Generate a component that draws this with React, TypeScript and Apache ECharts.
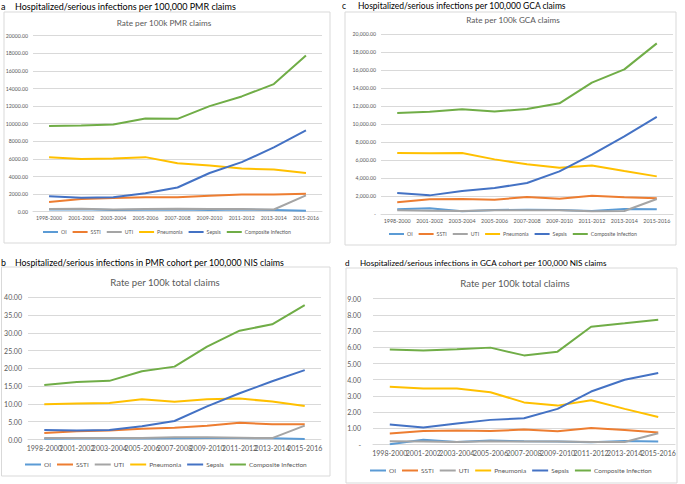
import React, { useEffect, useRef } from "react";
import * as echarts from "echarts";

const categories = ["1998-2000", "2001-2002", "2003-2004", "2005-2006", "2007-2008", "2009-2010", "2011-2012", "2013-2014", "2015-2016"];
const seriesNames = ["OI", "SSTI", "UTI", "Pneumonia", "Sepsis", "Composite Infection"];
const seriesColors = ["#5B9BD5", "#ED7D31", "#A5A5A5", "#FFC000", "#4472C4", "#70AD47"];

// a: per 100,000 PMR claims
const aOI = [250, 280, 200, 230, 250, 200, 250, 180, 100];
const aSSTI = [1100, 1450, 1550, 1650, 1650, 1800, 1950, 1950, 2050];
const aUTI = [300, 330, 260, 300, 330, 300, 300, 250, 1850];
const aPneumonia = [6200, 6000, 6050, 6200, 5500, 5250, 4900, 4800, 4400];
const aSepsis = [1750, 1580, 1650, 2100, 2750, 4400, 5630, 7300, 9240];
const aComposite = [9750, 9800, 9900, 10600, 10550, 12000, 13100, 14500, 17750];

// b: PMR cohort per 100,000 NIS claims
const bOI = [0.2, 0.3, 0.3, 0.3, 0.35, 0.45, 0.4, 0.35, 0.15];
const bSSTI = [1.8, 2.3, 2.5, 3.0, 3.3, 3.9, 4.7, 4.3, 4.3];
const bUTI = [0.4, 0.45, 0.4, 0.45, 0.6, 0.6, 0.5, 0.4, 3.9];
const bPneumonia = [9.9, 10.1, 10.3, 11.3, 10.6, 11.3, 11.5, 10.7, 9.4];
const bSepsis = [2.7, 2.5, 2.7, 3.7, 5.2, 9.3, 13.0, 16.4, 19.5];
const bComposite = [15.3, 16.2, 16.5, 19.2, 20.5, 26.1, 30.6, 32.4, 37.8];

// c: per 100,000 GCA claims
const cOI = [520, 630, 300, 440, 480, 440, 330, 550, 520];
const cSSTI = [1300, 1630, 1670, 1590, 1890, 1700, 2040, 1850, 1740];
const cUTI = [410, 370, 330, 410, 410, 410, 300, 330, 1670];
const cPneumonia = [6780, 6740, 6780, 6070, 5520, 5150, 5400, 4780, 4180];
const cSepsis = [2330, 2070, 2550, 2890, 3440, 4740, 6590, 8630, 10780];
const cComposite = [11220, 11370, 11630, 11400, 11670, 12300, 14600, 16070, 18960];

// d: GCA cohort per 100,000 NIS claims
const dOI = [0.02, 0.3, 0.16, 0.24, 0.2, 0.18, 0.14, 0.22, 0.18];
const dSSTI = [0.68, 0.84, 0.86, 0.84, 0.92, 0.82, 1.02, 0.9, 0.74];
const dUTI = [0.2, 0.18, 0.16, 0.2, 0.18, 0.18, 0.16, 0.16, 0.7];
const dPneumonia = [3.56, 3.46, 3.46, 3.23, 2.6, 2.4, 2.73, 2.2, 1.7];
const dSepsis = [1.23, 1.05, 1.3, 1.52, 1.62, 2.2, 3.27, 4.0, 4.42];
const dComposite = [5.86, 5.8, 5.88, 5.98, 5.5, 5.73, 7.27, 7.48, 7.7];

const panelHeadings = [
  "Hospitalized/serious infections per 100,000 PMR claims",
  "Hospitalized/serious infections in PMR cohort per 100,000 NIS claims",
  "Hospitalized/serious infections per 100,000 GCA claims",
  "Hospitalized/serious infections in GCA cohort per 100,000 NIS claims",
];
const chartTitles = ["Rate per 100k PMR claims", "Rate per 100k total claims", "Rate per 100k GCA claims", "Rate per 100k total claims"];

const FONT = "Lato, 'Open Sans', sans-serif";
const GRAY = "#595959";

export default function App() {
  const ref = useRef<HTMLDivElement>(null);
  useEffect(() => {
    if (!ref.current) return;
    const chart = echarts.init(ref.current, null, { renderer: "svg" });

    const panels = [
      { data: [aOI, aSSTI, aUTI, aPneumonia, aSepsis, aComposite], grid: { left: 33, top: 35.7, width: 289, height: 176 }, max: 20000, interval: 2000, fmt: (v: number) => v.toFixed(2), tick: 5.2, xf: 5.2, ym: 5, xm: 4 },
      { data: [bOI, bSSTI, bUTI, bPneumonia, bSepsis, bComposite], grid: { left: 28, top: 297.3, width: 293, height: 142.2 }, max: 40, interval: 5, fmt: (v: number) => v.toFixed(2), tick: 7, xf: 7, ym: 6, xm: 5 },
      { data: [cOI, cSSTI, cUTI, cPneumonia, cSepsis, cComposite], grid: { left: 381, top: 34, width: 292, height: 180 }, max: 20000, interval: 2000, fmt: (v: number) => (v === 0 ? "-" : v.toLocaleString("en-US", { minimumFractionDigits: 2, maximumFractionDigits: 2 })), tick: 5.2, xf: 5.4, ym: 5, xm: 4 },
      { data: [dOI, dSSTI, dUTI, dPneumonia, dSepsis, dComposite], grid: { left: 373, top: 298.7, width: 302, height: 145.8 }, max: 9, interval: 1, fmt: (v: number) => (v === 0 ? "-" : v.toFixed(2)), tick: 7, xf: 7, ym: 12, xm: 5 },
    ];

    const grid = panels.map((p) => ({ ...p.grid, containLabel: false }));
    const xAxis = panels.map((p, i) => ({
      type: "category",
      gridIndex: i,
      data: categories,
      boundaryGap: true,
      axisLine: { lineStyle: { color: "#D9D9D9", width: 1 } },
      axisTick: { show: false },
      axisLabel: { interval: 0, hideOverlap: false, color: GRAY, fontSize: p.xf, fontFamily: FONT, margin: p.xm },
    }));
    const yAxis = panels.map((p, i) => ({
      type: "value",
      gridIndex: i,
      min: 0,
      max: p.max,
      interval: p.interval,
      axisLine: { show: false },
      axisTick: { show: false },
      splitLine: { lineStyle: { color: "#D9D9D9", width: 1 } },
      axisLabel: { color: GRAY, fontSize: p.tick, fontFamily: FONT, margin: p.ym, formatter: p.fmt },
    }));
    const series: any[] = [];
    panels.forEach((p, i) => {
      p.data.forEach((vals, k) => {
        series.push({
          type: "line",
          name: seriesNames[k],
          xAxisIndex: i,
          yAxisIndex: i,
          data: vals,
          symbol: "none",
          showSymbol: false,
          lineStyle: { color: seriesColors[k], width: 2 },
          itemStyle: { color: seriesColors[k] },
        });
      });
    });

    const legendPos = [
      { left: 43, top: 229.5, fs: 5.2, iw: 15, gap: 6 },
      { left: 25, top: 461, fs: 6.5, iw: 16, gap: 6 },
      { left: 389, top: 231.5, fs: 5.2, iw: 15, gap: 6 },
      { left: 370, top: 467, fs: 6.5, iw: 16, gap: 6 },
    ];
    const legend = legendPos.map((l) => ({
      left: l.left,
      top: l.top,
      width: 300,
      icon: "rect",
      itemWidth: l.iw,
      itemHeight: 2,
      itemGap: l.gap,
      padding: 0,
      data: seriesNames,
      textStyle: { color: GRAY, fontSize: l.fs, fontFamily: FONT, padding: [0, 0, 0, -2] },
    }));

    const boxes = [
      { x: 4, y: 12, w: 326, h: 231 },
      { x: 1.5, y: 267, w: 328.5, h: 209 },
      { x: 345, y: 12, w: 331, h: 233 },
      { x: 346, y: 268, w: 331, h: 215 },
    ];
    const headPos = [
      { lx: 1, tx: 15, y: 6, fs: 9 },
      { lx: 1, tx: 15, y: 262, fs: 8.8 },
      { lx: 342, tx: 358, y: 6, fs: 8.5 },
      { lx: 345, tx: 360, y: 263, fs: 8.1 },
    ];
    const titlePos = [
      { x: 164, y: 23, fs: 8.2 },
      { x: 165, y: 282, fs: 9.6 },
      { x: 513, y: 20, fs: 8.2 },
      { x: 515, y: 283, fs: 9.6 },
    ];
    const letters = ["a", "b", "c", "d"];
    const graphic: any[] = [];
    boxes.forEach((b) => {
      graphic.push({ type: "rect", shape: { x: b.x, y: b.y, width: b.w, height: b.h }, style: { fill: "#fff", stroke: "#D9D9D9", lineWidth: 1 }, z: -10 });
    });
    headPos.forEach((h, i) => {
      graphic.push({ type: "text", x: h.lx, y: h.y, style: { text: letters[i], font: `${h.fs}px ${FONT}`, fill: "#000", textVerticalAlign: "middle" } });
      graphic.push({ type: "text", x: h.tx, y: h.y, style: { text: panelHeadings[i], font: `${h.fs}px ${FONT}`, fill: "#000", textVerticalAlign: "middle" } });
    });
    titlePos.forEach((t, i) => {
      graphic.push({ type: "text", x: t.x, y: t.y, style: { text: chartTitles[i], font: `${t.fs}px ${FONT}`, fill: GRAY, textAlign: "center", textVerticalAlign: "middle" } });
    });

    chart.setOption({
      animation: false,
      backgroundColor: "#ffffff",
      grid,
      xAxis,
      yAxis,
      series,
      legend,
      graphic,
    } as any);
    return () => chart.dispose();
  }, []);
  return <div ref={ref} style={{ position: "fixed", left: 0, top: 0, width: 685, height: 484 }} />;
}
